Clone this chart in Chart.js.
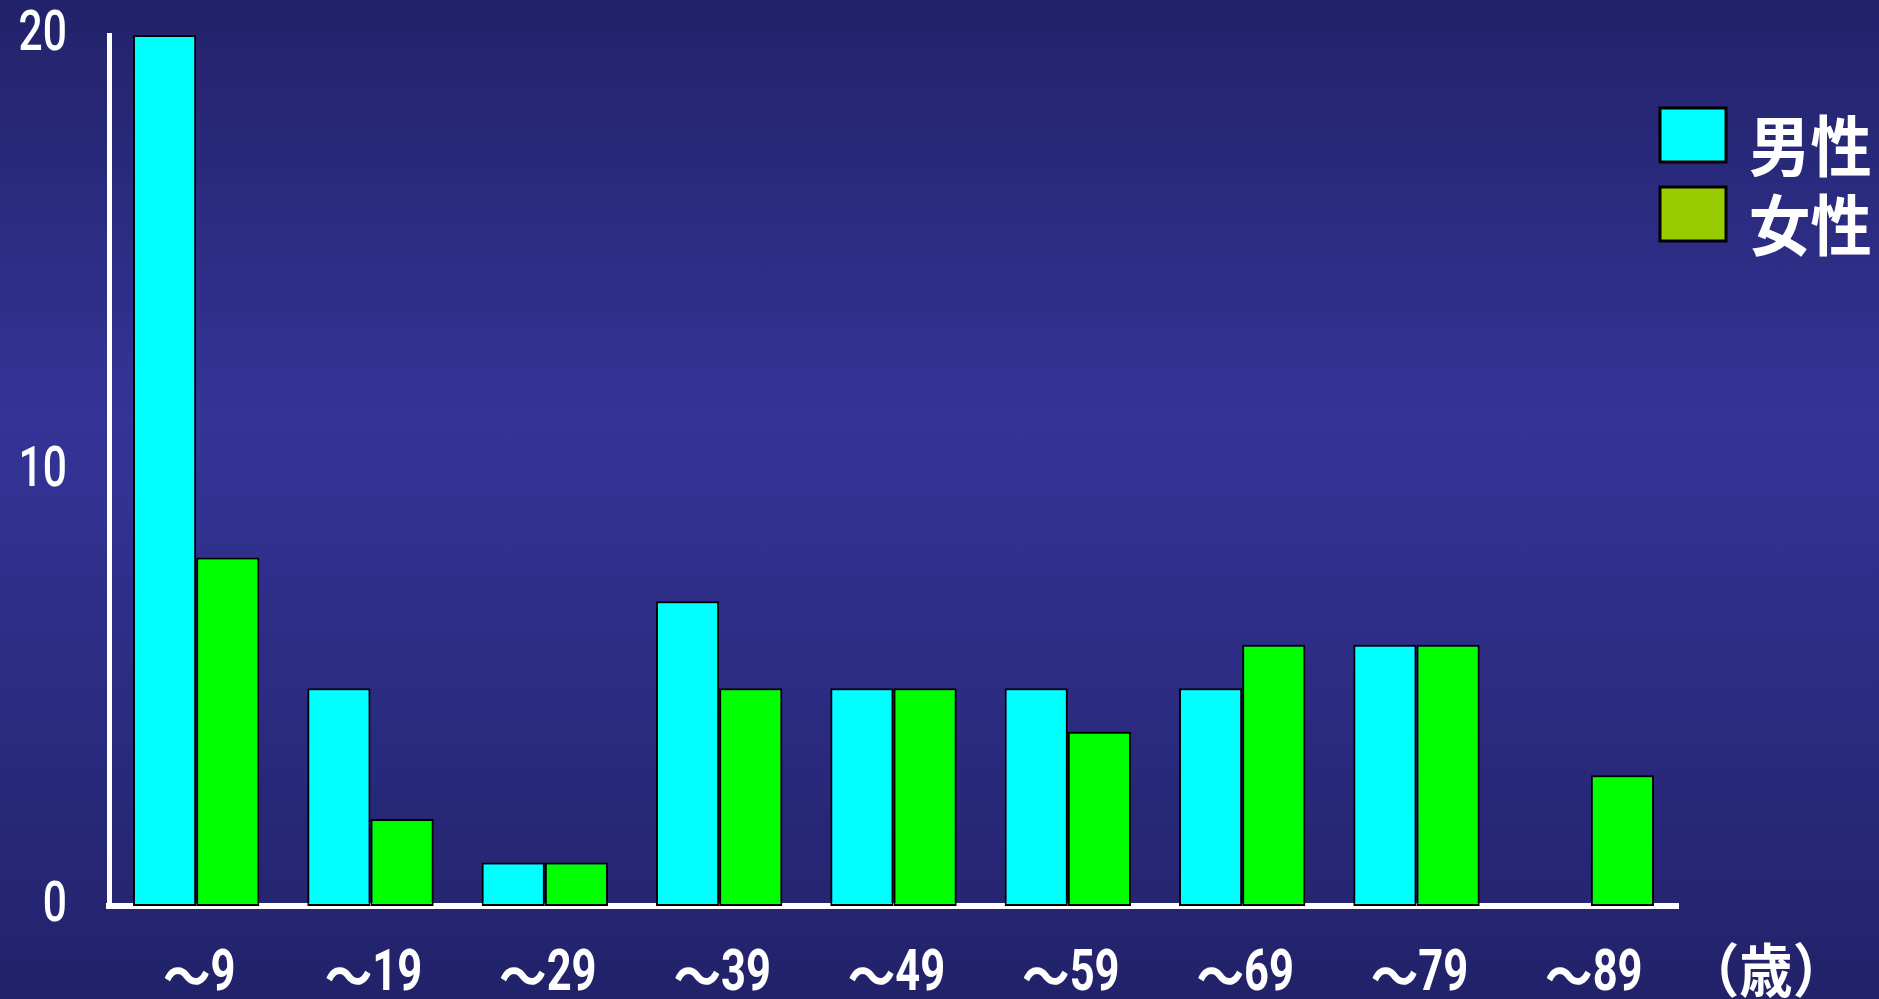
<!DOCTYPE html>
<html>
<head>
<meta charset="utf-8">
<script src="https://cdn.jsdelivr.net/npm/chart.js@4"></script>
<style>
    html, body
    {
        margin: 0;
        padding: 0;
        overflow: hidden;
    }
    #wrap
    {
        width: 1879px;
        height: 999px;
        background: linear-gradient(to bottom, #22226a 0%, #343497 42%, #22226a 100%);
    }
</style>
</head>
<body>
<div id="wrap"><canvas id="ageChart"></canvas></div>
<script>
const ageGroups = ["～9", "～19", "～29", "～39", "～49", "～59", "～69", "～79", "～89"];
const maleCounts = [20, 5, 1, 7, 5, 5, 5, 6, 0];
const femaleCounts = [8, 2, 1, 5, 5, 4, 6, 6, 3];
const seriesNames = ["男性", "女性"];
const barColors = ["#00ffff", "#00ff00"];
const legendColors = ["#00ffff", "#99cc00"];
const yTicks = [0, 10, 20];
const unitLabel = "（歳）";

const yFont = "500 56px Roboto, 'Noto Sans CJK JP', sans-serif";
const xFont = "bold 58px Roboto, 'Noto Sans CJK JP', sans-serif";
const tildeFont = "bold 54px 'Noto Sans CJK JP'";

// draw text squeezed sideways, the source font is a narrow one
function narrowText(ctx, text, x, y, align, sx, font)
{
    ctx.save();
    ctx.translate(x, y);
    ctx.scale(sx, 1);
    ctx.fillStyle = "#ffffff";
    ctx.font = font;
    ctx.textAlign = align;
    ctx.textBaseline = "middle";
    ctx.fillText(text, 0, 0);
    ctx.restore();
}

function textWidth(ctx, text, font, sx)
{
    ctx.save();
    ctx.font = font;
    const w = ctx.measureText(text).width * sx;
    ctx.restore();
    return w;
}

// tick labels, legend and unit label
const extrasPlugin =
{
    id: "extras",
    afterDraw(chart)
    {
        const ctx = chart.ctx;
        const xs = chart.scales.x;
        const ys = chart.scales.y;

        yTicks.forEach(v =>
        {
            narrowText(ctx, String(v), 67, ys.getPixelForValue(v) + 1, "right", 0.76, yFont);
        });
        ageGroups.forEach((g, i) =>
        {
            const tilde = g.charAt(0);
            const num = g.slice(1);
            const tw = textWidth(ctx, tilde, tildeFont, 0.88);
            const nw = textWidth(ctx, num, xFont, 0.75);
            const left = xs.getPixelForTick(i) + 3 - (tw + nw) / 2;
            narrowText(ctx, tilde, left, 976, "left", 0.88, tildeFont);
            narrowText(ctx, num, left + tw, 975, "left", 0.75, xFont);
        });

        seriesNames.forEach((name, i) =>
        {
            const y = 108 + i * 79;
            ctx.fillStyle = legendColors[i];
            ctx.fillRect(1660, y, 66, 54);
            ctx.lineWidth = 3;
            ctx.strokeStyle = "#000000";
            ctx.strokeRect(1660, y, 66, 54);
            narrowText(ctx, name, 1749, y + 38, "left", 0.93, "bold 66px 'Noto Sans CJK JP'");
        });

        narrowText(ctx, unitLabel, 1686, 970, "left", 0.92, "bold 58px 'Noto Sans CJK JP'");
    }
};

new Chart(document.getElementById("ageChart"),
{
    type: "bar",
    data:
    {
        labels: ageGroups,
        datasets:
        [
            {
                label: seriesNames[0],
                data: maleCounts,
                backgroundColor: barColors[0],
                borderColor: "#000000",
                borderWidth: 2,
                borderSkipped: false
            },
            {
                label: seriesNames[1],
                data: femaleCounts,
                backgroundColor: barColors[1],
                borderColor: "#000000",
                borderWidth: 2,
                borderSkipped: false
            }
        ]
    },
    options:
    {
        responsive: true,
        maintainAspectRatio: false,
        animation: false,
        datasets:
        {
            bar:
            {
                barPercentage: 1,
                categoryPercentage: 0.725
            }
        },
        layout:
        {
            padding: { top: 35, right: 201, left: 0, bottom: 0 }
        },
        plugins:
        {
            legend: { display: false },
            tooltip: { enabled: false }
        },
        scales:
        {
            x:
            {
                z: 1,
                grid: { display: false, drawTicks: false },
                border: { display: true, color: "#ffffff", width: 6 },
                ticks: { display: false },
                afterFit: s => { s.height = 93; s.paddingLeft = 0; s.paddingRight = 0; }
            },
            y:
            {
                z: 1,
                min: 0,
                max: 20,
                afterBuildTicks: s => { s.ticks = yTicks.map(v => ({ value: v })); },
                grid: { display: false, drawTicks: false },
                border: { display: true, color: "#ffffff", width: 5 },
                ticks: { display: false },
                afterFit: s => { s.width = 109; s.paddingTop = 0; s.paddingBottom = 0; }
            }
        }
    },
    plugins: [extrasPlugin]
});
</script>
</body>
</html>
